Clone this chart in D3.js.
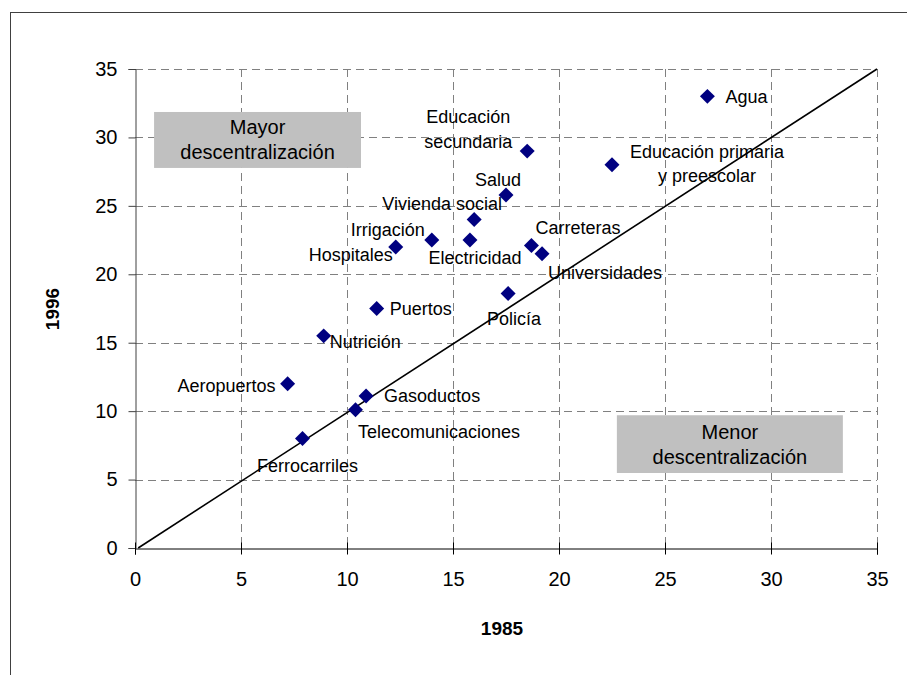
<!DOCTYPE html>
<html>
<head>
<meta charset="utf-8">
<script src="https://cdn.jsdelivr.net/npm/d3@7"></script>
<style>
  html, body { margin: 0; padding: 0; background: #fff; }
  svg { display: block; font-family: Arial, "Liberation Sans", sans-serif; }
</style>
</head>
<body>
<svg id="chart" width="907" height="675"></svg>
<script>
// ---- Data ----
const names = ["Agua", "Educación secundaria", "Educación primaria y preescolar", "Salud",
  "Vivienda social", "Irrigación", "Hospitales", "Electricidad", "Carreteras",
  "Universidades", "Policía", "Puertos", "Nutrición", "Aeropuertos", "Gasoductos",
  "Telecomunicaciones", "Ferrocarriles"];
const values1985 = [27, 18.5, 22.5, 17.5, 16, 14, 12.3, 15.8, 18.7, 19.2, 17.6, 11.4, 8.9, 7.2, 10.9, 10.4, 7.9];
const values1996 = [33, 29, 28, 25.8, 24, 22.5, 22, 22.5, 22.1, 21.5, 18.6, 17.5, 15.5, 12, 11.1, 10.1, 8];
const xTicks = [0, 5, 10, 15, 20, 25, 30, 35];
const yTicks = [0, 5, 10, 15, 20, 25, 30, 35];
const lineX = [0.15, 35];
const lineY = [0, 35];
const xTitle = "1985";
const yTitle = "1996";
const boxLabels = [["Mayor", "descentralización"], ["Menor", "descentralización"]];
const boxX = [[0.9, 10.66], [22.73, 33.39]];
const boxY = [[31.86, 27.77], [9.7, 5.48]];

// ---- Label layout (pixel offsets from marker) ----
const labelLayout = {
  "Agua": {lines: ["Agua"], dx: 18, dy: [0], anchor: "start"},
  "Educación secundaria": {lines: ["Educación", "secundaria"], dx: -59, dy: [-34, -9], anchor: "middle"},
  "Educación primaria y preescolar": {lines: ["Educación primaria", "y preescolar"], dx: 95, dy: [-13, 11], anchor: "middle"},
  "Salud": {lines: ["Salud"], dx: -8, dy: [-15], anchor: "middle"},
  "Vivienda social": {lines: ["Vivienda social"], dx: -32, dy: [-15.5], anchor: "middle"},
  "Irrigación": {lines: ["Irrigación"], dx: -7, dy: [-10], anchor: "end"},
  "Hospitales": {lines: ["Hospitales"], dx: -3, dy: [8], anchor: "end"},
  "Electricidad": {lines: ["Electricidad"], dx: 5, dy: [18], anchor: "middle"},
  "Carreteras": {lines: ["Carreteras"], dx: 4, dy: [-17.5], anchor: "start"},
  "Universidades": {lines: ["Universidades"], dx: 6, dy: [19], anchor: "start"},
  "Policía": {lines: ["Policía"], dx: 6, dy: [25], anchor: "middle"},
  "Puertos": {lines: ["Puertos"], dx: 13, dy: [0], anchor: "start"},
  "Nutrición": {lines: ["Nutrición"], dx: 6, dy: [6], anchor: "start"},
  "Aeropuertos": {lines: ["Aeropuertos"], dx: -12, dy: [2], anchor: "end"},
  "Gasoductos": {lines: ["Gasoductos"], dx: 18, dy: [0], anchor: "start"},
  "Telecomunicaciones": {lines: ["Telecomunicaciones"], dx: 2.5, dy: [22], anchor: "start"},
  "Ferrocarriles": {lines: ["Ferrocarriles"], dx: 5, dy: [27.5], anchor: "middle"}
};

const svg = d3.select("#chart");
const plot = {left: 135, right: 877, top: 69, bottom: 548};

// outer frame
svg.append("rect").attr("x", 10.5).attr("y", 12.5).attr("width", 1000).attr("height", 1000)
  .attr("fill", "#fff").attr("stroke", "#404040").attr("stroke-width", 1);

const x = d3.scaleLinear().domain([0, 35]).range([plot.left, plot.right]);
const y = d3.scaleLinear().domain([0, 35]).range([plot.bottom, plot.top]);

// grid
const grid = svg.append("g");
grid.selectAll("line.h").data(yTicks.filter(d => d > 0)).enter().append("line")
  .attr("x1", plot.left).attr("x2", plot.right)
  .attr("y1", d => Math.round(y(d)) + 0.5).attr("y2", d => Math.round(y(d)) + 0.5)
  .attr("stroke", "#808080").attr("stroke-dasharray", "8,5").attr("stroke-width", 1);
grid.selectAll("line.v").data(xTicks.filter(d => d > 0)).enter().append("line")
  .attr("x1", d => Math.round(x(d)) + 0.5).attr("x2", d => Math.round(x(d)) + 0.5)
  .attr("y1", plot.top).attr("y2", plot.bottom)
  .attr("stroke", "#808080").attr("stroke-dasharray", "8,5").attr("stroke-width", 1);

// y axis
const yAxis = svg.append("g").attr("transform", `translate(${plot.left + 0.5},0)`)
  .call(d3.axisLeft(y).tickValues(yTicks).tickSize(7).tickPadding(11));
yAxis.select(".domain").attr("stroke", "#404040");
yAxis.selectAll(".tick line").attr("stroke", "#404040");
yAxis.selectAll("text").attr("font-size", 20).attr("fill", "#000")
  .attr("font-family", "Arial, 'Liberation Sans', sans-serif");

// x axis
const xAxis = svg.append("g").attr("transform", `translate(0,${plot.bottom + 0.5})`)
  .call(d3.axisBottom(x).tickValues(xTicks).tickSize(6).tickPadding(17));
xAxis.select(".domain").attr("stroke", "#000");
xAxis.selectAll(".tick line").attr("stroke", "#000").attr("y1", -6);
xAxis.selectAll("text").attr("font-size", 20).attr("fill", "#000")
  .attr("font-family", "Arial, 'Liberation Sans', sans-serif");

// diagonal line
svg.append("line")
  .attr("x1", x(lineX[0])).attr("y1", y(lineY[0]))
  .attr("x2", x(lineX[1])).attr("y2", y(lineY[1]))
  .attr("stroke", "#000").attr("stroke-width", 1.6);

// gray boxes
boxLabels.forEach((lines, i) => {
  const x0 = x(boxX[i][0]), x1 = x(boxX[i][1]);
  const y0 = y(boxY[i][0]), y1 = y(boxY[i][1]);
  svg.append("rect").attr("x", x0).attr("y", y0).attr("width", x1 - x0).attr("height", y1 - y0)
    .attr("fill", "#c0c0c0");
  const cx = (x0 + x1) / 2, cy = (y0 + y1) / 2;
  lines.forEach((t, j) => {
    svg.append("text").attr("x", cx).attr("y", cy + (j - 0.5) * 25)
      .attr("dy", "0.35em").attr("text-anchor", "middle")
      .attr("font-size", 20).attr("fill", "#000").text(t);
  });
});

// markers
const pts = names.map((n, i) => ({name: n, x: values1985[i], y: values1996[i]}));
const diamond = d3.symbol().type(d3.symbolSquare).size(112);
svg.append("g").selectAll("path").data(pts).enter().append("path")
  .attr("d", diamond)
  .attr("transform", d => `translate(${x(d.x)},${y(d.y)}) rotate(45)`)
  .attr("fill", "#000080");

// labels
const lg = svg.append("g");
pts.forEach(d => {
  const L = labelLayout[d.name];
  L.lines.forEach((t, j) => {
    lg.append("text")
      .attr("x", x(d.x) + L.dx).attr("y", y(d.y) + L.dy[j])
      .attr("dy", "0.35em").attr("text-anchor", L.anchor)
      .attr("font-size", 18).attr("fill", "#000").text(t);
  });
});

// axis titles
svg.append("text").attr("x", (plot.left + plot.right) / 2 - 4).attr("y", 628).attr("dy", "0.35em")
  .attr("text-anchor", "middle").attr("font-size", 19).attr("font-weight", "bold").text(xTitle);
svg.append("text").attr("transform", "translate(52,309) rotate(-90)").attr("dy", "0.35em")
  .attr("text-anchor", "middle").attr("font-size", 19).attr("font-weight", "bold").text(yTitle);
</script>
</body>
</html>
